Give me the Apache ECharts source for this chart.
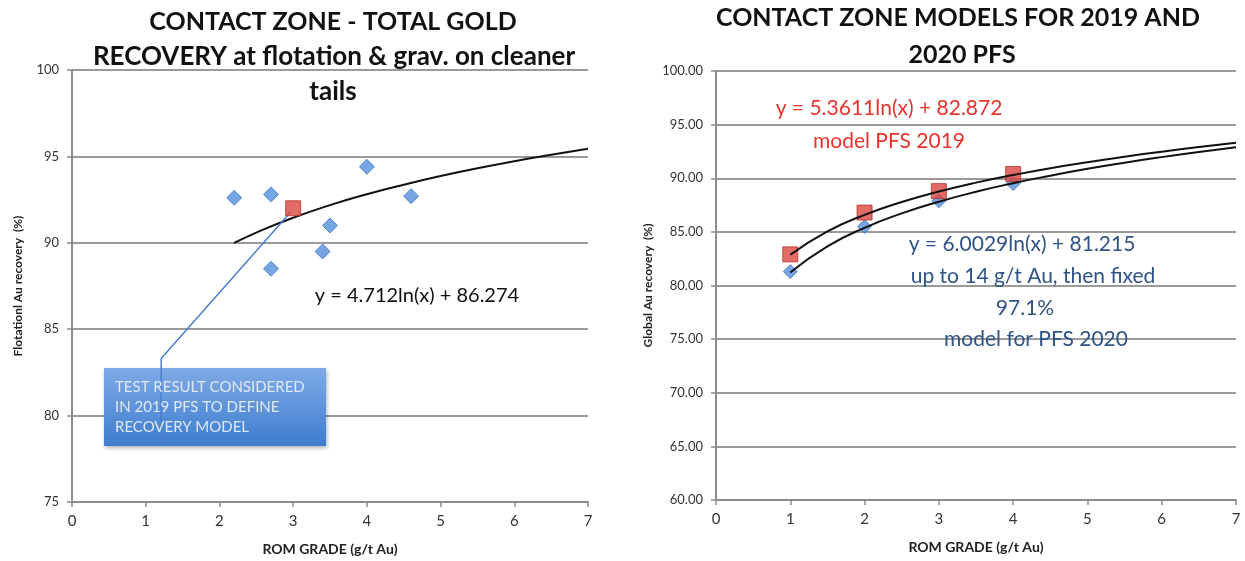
<!DOCTYPE html>
<html>
<head>
<meta charset="utf-8">
<style>
  html, body { margin: 0; padding: 0; background: #ffffff; }
  #chart { width: 1245px; height: 561px; }
</style>
<script src="https://cdn.jsdelivr.net/npm/echarts@6/dist/echarts.min.js"></script>
</head>
<body>
<div id="chart"></div>
<script>
// ---- Left panel: flotation + gravity recovery tests ----
const testGrade    = [2.2, 2.7, 2.7, 3.4, 3.5, 4.0, 4.6];
const testRecovery = [92.6, 92.8, 88.5, 89.5, 91.0, 94.4, 92.7];
const pfs2019Grade    = [3.0];
const pfs2019Recovery = [92.0];
// logarithmic trend y = 4.712ln(x) + 86.274
const trendLeftX = [2.2, 2.5, 3.0, 3.5, 4.0, 4.5, 5.0, 5.5, 6.0, 6.5, 7.0];
const trendLeftY = [89.99, 90.59, 91.45, 92.18, 92.81, 93.36, 93.86, 94.31, 94.72, 95.09, 95.44];
// callout leader from the note box to the 2019 PFS test point
const leaderX = [1.21, 1.21, 2.97];
const leaderY = [78.3, 83.3, 91.8];

// ---- Right panel: 2019 and 2020 PFS recovery models ----
const modelGrade = [1, 2, 3, 4];
const model2019Points = [82.9, 86.8, 88.8, 90.4];
const model2020Points = [81.3, 85.5, 87.9, 89.5];
const curveX = [1, 1.5, 2, 2.5, 3, 3.5, 4, 4.5, 5, 5.5, 6, 6.5, 7];
// y = 5.3611ln(x) + 82.872
const curve2019 = [82.87, 85.05, 86.59, 87.78, 88.76, 89.59, 90.30, 90.94, 91.50, 92.01, 92.48, 92.91, 93.30];
// y = 6.0029ln(x) + 81.215
const curve2020 = [81.22, 83.65, 85.38, 86.72, 87.81, 88.74, 89.54, 90.24, 90.88, 91.45, 91.97, 92.45, 92.90];

const xTicks = [0, 1, 2, 3, 4, 5, 6, 7];

const pairs = (xs, ys) => xs.map((x, i) => [x, ys[i]]);

const FONT = 'Lato, "Open Sans", sans-serif';
const GRID_GRAY = '#9a9a9a';
const AXIS_GRAY = '#8c8c8c';

function xAxisCfg(gridIndex) {
  return {
    type: 'value', gridIndex: gridIndex, min: 0, max: 7, interval: 1,
    name: 'ROM GRADE (g/t Au)', nameLocation: 'middle', nameGap: 40,
    nameTextStyle: { fontFamily: FONT, fontWeight: 'bold', fontSize: 14, color: '#222' },
    axisLine: { show: true, onZero: false, lineStyle: { color: AXIS_GRAY, width: 2 } },
    axisTick: { show: true, length: 5, lineStyle: { color: AXIS_GRAY, width: 1.5 } },
    axisLabel: { fontFamily: FONT, fontSize: 15, color: '#333', margin: 12,
      formatter: v => xTicks.includes(v) ? String(v) : '' },
    splitLine: { show: false }
  };
}

function yAxisCfg(gridIndex, name, decimals, min) {
  return {
    type: 'value', gridIndex: gridIndex, min: min, max: 100, interval: 5,
    name: name, nameLocation: 'middle', nameGap: decimals ? 62 : 48,
    nameTextStyle: { fontFamily: FONT, fontWeight: 'bold', fontSize: 12, color: '#222' },
    axisLine: { show: true, lineStyle: { color: AXIS_GRAY, width: 2 } },
    axisTick: { show: true, length: 5, lineStyle: { color: AXIS_GRAY, width: 1.5 } },
    axisLabel: { fontFamily: FONT, fontSize: 13, color: '#333', margin: 13,
      formatter: v => v.toFixed(decimals) },
    splitLine: { show: true, lineStyle: { color: GRID_GRAY, width: 2 } }
  };
}

const diamondStyle = { color: '#5390dc', borderColor: '#3f78c6', borderWidth: 1 };
const squareStyle  = { color: '#d9463f', borderColor: '#b8322c', borderWidth: 1 };
const trendStyle   = { color: '#111', width: 2 };

function text(str, x, y, font, fill, align) {
  return {
    type: 'text', z: 5,
    style: { text: str, x: x, y: y, font: font, fill: fill,
             textAlign: align || 'center', textVerticalAlign: 'middle' }
  };
}

const chart = echarts.init(document.getElementById('chart'));
chart.setOption({
  animation: false,
  backgroundColor: '#ffffff',
  grid: [
    { left: 72, top: 70, width: 516, height: 432 },
    { left: 716, top: 71, width: 520, height: 429 }
  ],
  xAxis: [xAxisCfg(0), xAxisCfg(1)],
  yAxis: [
    yAxisCfg(0, 'Flotationl Au recovery  (%)', 0, 75),
    yAxisCfg(1, 'Global Au recovery  (%)', 2, 60)
  ],
  series: [
    { type: 'line', xAxisIndex: 0, yAxisIndex: 0, data: pairs(trendLeftX, trendLeftY),
      smooth: true, showSymbol: false, lineStyle: trendStyle, z: 3 },
    { type: 'line', xAxisIndex: 0, yAxisIndex: 0, data: pairs(leaderX, leaderY),
      showSymbol: false, lineStyle: { color: '#4a7fcf', width: 1.5 }, z: 3 },
    { type: 'scatter', xAxisIndex: 0, yAxisIndex: 0, data: pairs(testGrade, testRecovery),
      symbol: 'diamond', symbolSize: 15, itemStyle: diamondStyle, z: 4 },
    { type: 'scatter', xAxisIndex: 0, yAxisIndex: 0, data: pairs(pfs2019Grade, pfs2019Recovery),
      symbol: 'rect', symbolSize: 15, itemStyle: squareStyle, z: 5 },

    { type: 'scatter', xAxisIndex: 1, yAxisIndex: 1, data: pairs(modelGrade, model2020Points),
      symbol: 'diamond', symbolSize: 14, itemStyle: diamondStyle, z: 3 },
    { type: 'scatter', xAxisIndex: 1, yAxisIndex: 1, data: pairs(modelGrade, model2019Points),
      symbol: 'rect', symbolSize: 15, itemStyle: squareStyle, z: 4 },
    { type: 'line', xAxisIndex: 1, yAxisIndex: 1, data: pairs(curveX, curve2019),
      smooth: true, showSymbol: false, lineStyle: trendStyle, z: 6 },
    { type: 'line', xAxisIndex: 1, yAxisIndex: 1, data: pairs(curveX, curve2020),
      smooth: true, showSymbol: false, lineStyle: trendStyle, z: 6 }
  ],
  graphic: [
    // left title
    text('CONTACT ZONE - TOTAL GOLD', 333, 22, 'bold 25px ' + FONT, '#111'),
    text('RECOVERY at flotation & grav. on cleaner', 334, 57, 'bold 26px ' + FONT, '#111'),
    text('tails', 333, 92, 'bold 26px ' + FONT, '#111'),
    // right title
    text('CONTACT ZONE MODELS FOR 2019 AND', 958, 18, 'bold 25px ' + FONT, '#111'),
    text('2020 PFS', 962, 55, 'bold 25px ' + FONT, '#111'),
    // note box
    {
      type: 'rect', z: 1,
      shape: { x: 104, y: 368, width: 222, height: 78 },
      style: {
        fill: new echarts.graphic.LinearGradient(0, 0, 0, 1, [
          { offset: 0, color: '#7eaae6' },
          { offset: 1, color: '#3e7dcf' }
        ]),
        shadowBlur: 4, shadowColor: 'rgba(0,0,0,0.3)', shadowOffsetX: 1, shadowOffsetY: 2
      }
    },
    text('TEST RESULT CONSIDERED', 115, 387, '15px ' + FONT, '#dfe8f5', 'left'),
    text('IN 2019 PFS TO DEFINE', 115, 407, '15px ' + FONT, '#dfe8f5', 'left'),
    text('RECOVERY MODEL', 115, 427, '15px ' + FONT, '#dfe8f5', 'left'),
    // left trend equation
    text('y = 4.712ln(x) + 86.274', 417, 296, '20px ' + FONT, '#111'),
    // right model labels
    text('y = 5.3611ln(x) + 82.872', 889, 108, '21px ' + FONT, '#e8332c'),
    text('model PFS 2019', 889, 141, '21px ' + FONT, '#e8332c'),
    text('y = 6.0029ln(x) + 81.215', 1022, 244, '21px ' + FONT, '#2f5386'),
    text('up to 14 g/t Au, then fixed', 1033, 276, '21px ' + FONT, '#2f5386'),
    text('97.1%', 1025, 308, '21px ' + FONT, '#2f5386'),
    text('model for PFS 2020', 1036, 339, '21px ' + FONT, '#2f5386')
  ]
});
</script>
</body>
</html>
